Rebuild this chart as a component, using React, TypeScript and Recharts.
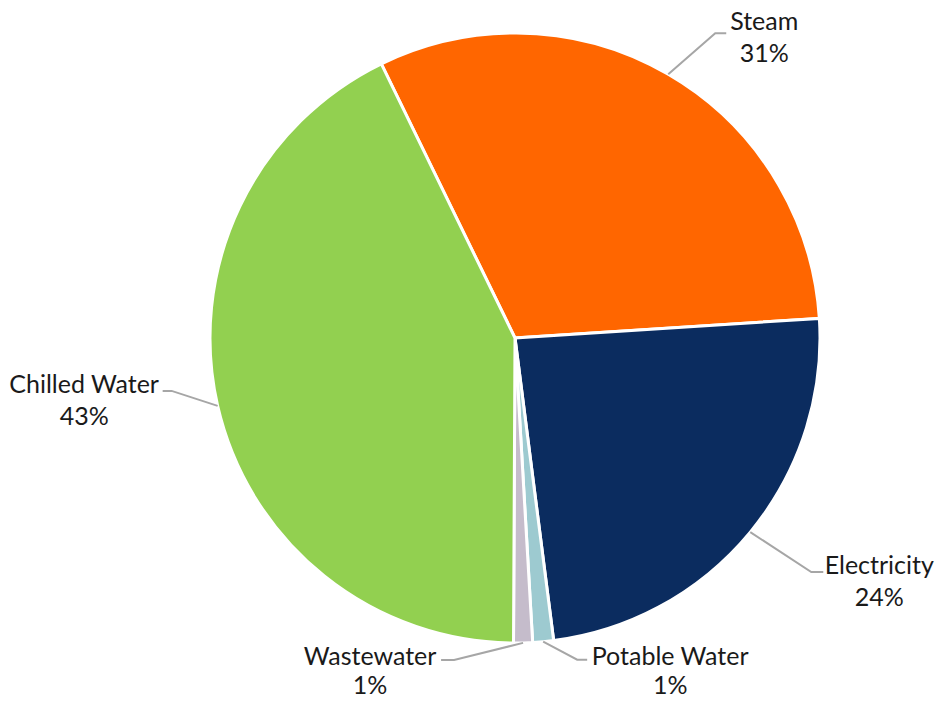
import React from "react"
import { PieChart, Pie, Cell } from "recharts"

const categories = ["Steam", "Electricity", "Potable Water", "Wastewater", "Chilled Water"]
const shares = [31.2, 24.0, 1.1, 1.0, 42.7]
const colors = ["#FF6600", "#0B2C5F", "#9DCAD0", "#C5BCCB", "#92D050"]

const data = categories.map((name, i) => ({ name, value: shares[i] }))

// leader line elbow / tail / text placement, relative to the slice's edge point
const labelLayout: Record<string, { elbow: [number, number]; tail: number; text: [number, number]; gap: number }> = {
  Steam: { elbow: [47, -41], tail: 11, text: [49, -13], gap: 32 },
  Electricity: { elbow: [61, 40], tail: 12, text: [68, -8], gap: 32 },
  "Potable Water": { elbow: [34, 18], tail: 10, text: [93, -5], gap: 29 },
  Wastewater: { elbow: [-69, 17], tail: -13, text: [-84, -5], gap: 29 },
  "Chilled Water": { elbow: [-46, -15], tail: -9, text: [-87.5, -8], gap: 32 },
}

const RADIAN = Math.PI / 180
const FONT = "Lato, sans-serif"

const renderLabel = (props: any) => {
  const { cx, cy, midAngle, outerRadius, percent, name } = props
  const layout = labelLayout[name]
  const x0 = cx + outerRadius * Math.cos(-midAngle * RADIAN)
  const y0 = cy + outerRadius * Math.sin(-midAngle * RADIAN)
  const ex = x0 + layout.elbow[0]
  const ey = y0 + layout.elbow[1]
  const tx = ex + layout.text[0]
  const ty = ey + layout.text[1]
  return (
    <g>
      <polyline
        points={`${x0},${y0} ${ex},${ey} ${ex + layout.tail},${ey}`}
        fill="none"
        stroke="#A6A6A6"
        strokeWidth={2}
      />
      <text x={tx} y={ty} textAnchor="middle" dominantBaseline="central" fill="#1a1a1a" fontSize={25} fontFamily={FONT}>
        {name}
      </text>
      <text x={tx} y={ty + layout.gap} textAnchor="middle" dominantBaseline="central" fill="#1a1a1a" fontSize={25} fontFamily={FONT}>
        {`${Math.round(percent * 100)}%`}
      </text>
    </g>
  )
}

export default function App() {
  return (
    <div style={{ position: "fixed", left: 0, top: 0, width: 936, height: 702, background: "#fff" }}>
      <PieChart width={936} height={702} margin={{ top: 0, right: 0, bottom: 0, left: 0 }}>
        <Pie
          data={data}
          dataKey="value"
          nameKey="name"
          cx={515}
          cy={338}
          outerRadius={305}
          startAngle={116}
          endAngle={-244}
          stroke="#fff"
          strokeWidth={3}
          label={renderLabel}
          labelLine={false}
          isAnimationActive={false}
        >
          {data.map((entry, index) => (
            <Cell key={`cell-${index}`} fill={colors[index]} />
          ))}
        </Pie>
      </PieChart>
    </div>
  )
}
